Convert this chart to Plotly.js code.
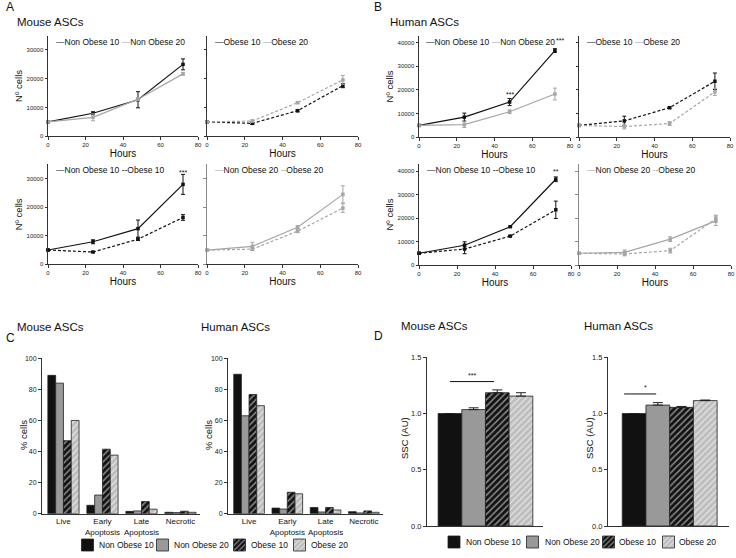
<!DOCTYPE html>
<html><head><meta charset="utf-8">
<script src="https://cdn.plot.ly/plotly-3.0.1.min.js"></script>
<style>html,body{margin:0;padding:0;background:#fff}#chart{width:736px;height:558px}</style>
</head><body><div id="chart"></div>
<script>
// ---------------- DATA ----------------
const hours = [0, 24, 48, 72];
const hourTicks = [0, 20, 40, 60, 80];
const mouseCountTicks = [0, 10000, 20000, 30000];
const humanCountTicks = [0, 10000, 20000, 30000, 40000];

// Panel A (mouse) – top row
const mNO10_top = [5000, 8000, 12700, 25000];   const mNO10_top_err = [0, 500, 2800, 1900];
const mNO20_top = [5000, 6600, 12900, 21700];   const mNO20_top_err = [0, 1200, 500, 500];
const mO10_top  = [5000, 4500, 8900, 17600];    const mO10_top_err  = [0, 400, 400, 700];
const mO20_top  = [5000, 5300, 11700, 19600];   const mO20_top_err  = [0, 400, 400, 1500];
// Panel A (mouse) – bottom row
const mNO10_bot = [5000, 7900, 12500, 28000];   const mNO10_bot_err = [0, 700, 3000, 3500];
const mO10_bot  = [5000, 4300, 8800, 16400];    const mO10_bot_err  = [0, 200, 400, 1000];
const mNO20_bot = [5000, 6300, 13000, 24500];   const mNO20_bot_err = [0, 1400, 500, 3000];
const mO20_bot  = [5000, 5300, 11600, 19700];   const mO20_bot_err  = [0, 500, 500, 1500];
// Panel B (human) – top row
const hNO10_top = [5000, 8500, 14900, 36700];   const hNO10_top_err = [0, 1700, 1500, 800];
const hNO20_top = [5000, 5300, 10800, 18300];   const hNO20_top_err = [0, 1200, 800, 2500];
const hO10_top  = [5000, 6900, 12500, 23700];   const hO10_top_err  = [0, 2000, 400, 3500];
const hO20_top  = [5000, 4500, 5800, 19200];    const hO20_top_err  = [0, 1000, 800, 1500];
// Panel B (human) – bottom row
const hNO10_bot = [5000, 8400, 16300, 36500];   const hNO10_bot_err = [0, 1500, 300, 1000];
const hO10_bot  = [5000, 6800, 12300, 23500];   const hO10_bot_err  = [0, 2000, 300, 3700];
const hNO20_bot = [5000, 5400, 11000, 18800];   const hNO20_bot_err = [0, 1000, 1000, 2000];
const hO20_bot  = [5000, 4700, 6100, 19700];    const hO20_bot_err  = [0, 800, 1000, 1500];

// Panel C – apoptosis (% cells)
const apopCats = ['Live', 'Early<br>Apoptosis', 'Late<br>Apoptosis', 'Necrotic'];
const pctTicks = [0, 20, 40, 60, 80, 100];
const mApopNO10 = [89.0, 5.4, 1.5, 0.9];
const mApopNO20 = [84.0, 12.0, 1.8, 0.7];
const mApopO10  = [47.0, 41.5, 7.8, 1.6];
const mApopO20  = [60.0, 37.7, 2.9, 0.9];
const hApopNO10 = [89.7, 3.6, 4.0, 1.3];
const hApopNO20 = [63.0, 3.0, 1.1, 0.5];
const hApopO10  = [76.7, 13.8, 4.0, 1.8];
const hApopO20  = [69.5, 12.8, 2.4, 0.9];

// Panel D – SSC (AU)
const groups = ['Non Obese 10', 'Non Obese 20', 'Obese 10', 'Obese 20'];
const sscTicks = [0, 0.5, 1.0, 1.5];
const sscTickText = ['0.0', '0.5', '1.0', '1.5'];
const mSSC     = [1.0, 1.035, 1.185, 1.155];
const mSSC_err = [0, 0.016, 0.025, 0.03];
const hSSC     = [1.0, 1.075, 1.055, 1.115];
const hSSC_err = [0, 0.022, 0.008, 0.005];

// ---------------- HELPERS ----------------
const W = 736, H = 558;
const FONT = 'Liberation Sans, Arial, Helvetica, sans-serif';
const P = x => x / W, Q = y => 1 - y / H;
const BLACK = '#111111', GREY = '#a6a6a6', AXC = '#333333', TXT = '#111111';

function lineTrace(n, y, err, color, dash) {
  const xa = n === 1 ? 'x' : 'x' + n, ya = n === 1 ? 'y' : 'y' + n;
  return {type: 'scatter', mode: 'lines+markers', x: hours, y: y,
    xaxis: xa, yaxis: ya, showlegend: false, cliponaxis: false,
    line: {color: color, width: 1.2, dash: dash},
    marker: {color: color, size: 3.5, symbol: 'square'},
    error_y: {type: 'data', array: err, visible: true, color: color, thickness: 1, width: 2}};
}
function xLine(x0, x1, yn) {
  return {domain: [P(x0), P(x1)], anchor: 'y' + yn, range: [0, 80], tickvals: hourTicks,
    ticktext: hourTicks.map(String), ticks: 'outside', ticklen: 2.5, tickwidth: 1, tickcolor: AXC,
    showline: true, linecolor: AXC, linewidth: 1, showgrid: false, zeroline: false,
    tickfont: {size: 6, color: '#222222'}, title: {text: 'Hours', font: {size: 10, color: TXT}, standoff: 0}};
}
function yLine(bottomPx, topPx, top, ticks, xn, labels, lc) {
  return {domain: [Q(bottomPx), Q(topPx)], anchor: 'x' + xn, range: [0, top], tickvals: ticks,
    ticktext: ticks.map(String), showticklabels: labels, ticks: 'outside', ticklen: 2.5, tickwidth: 1,
    tickcolor: lc || AXC, showline: true, linecolor: lc || AXC, linewidth: lc ? 1.5 : 1,
    showgrid: false, zeroline: false, tickfont: {size: 6, color: '#222222'},
    title: labels ? {text: 'Nº cells', font: {size: 9.5, color: TXT}, standoff: 2} : {text: ''}};
}

const barStyles = [
  {color: '#111111', pattern: {shape: ''}},
  {color: '#999999', pattern: {shape: ''}},
  {color: '#111111', pattern: {shape: '/', fgcolor: '#ffffff', size: 4.5, solidity: 0.35, fillmode: 'overlay'}},
  {color: '#bdbdbd', pattern: {shape: '/', fgcolor: '#ffffff', size: 4.5, solidity: 0.35, fillmode: 'overlay'}}
];
// one legend per entry (glyph only); the entry labels are placed right beside them as text
const legC = ['legend', 'legend2', 'legend3', 'legend4'];
const legD = ['legend5', 'legend6', 'legend7', 'legend8'];
function apopTrace(n, vals, k, legend) {
  return {type: 'bar', x: apopCats, y: vals, xaxis: 'x' + n, yaxis: 'y' + n,
    name: legend ? ' ' : groups[k], showlegend: legend, legend: legC[k],
    marker: {color: barStyles[k].color, pattern: barStyles[k].pattern, line: {color: '#222222', width: 0.8}}};
}
function sscTrace(n, vals, errs, k, legend) {
  return {type: 'bar', x: [groups[k]], y: [vals[k]], xaxis: 'x' + n, yaxis: 'y' + n,
    name: legend ? ' ' : groups[k], showlegend: legend, legend: legD[k], offsetgroup: 'ssc' + n, width: 1,
    marker: {color: barStyles[k].color, pattern: barStyles[k].pattern, line: {color: '#222222', width: 0.8}},
    error_y: {type: 'data', symmetric: false, array: [errs[k]], arrayminus: [0], visible: true,
      color: '#222222', thickness: 1, width: 5}};
}

// ---------------- TRACES ----------------
const data = [
  lineTrace(1, mNO10_top, mNO10_top_err, BLACK, 'solid'),
  lineTrace(1, mNO20_top, mNO20_top_err, GREY, 'solid'),
  lineTrace(2, mO10_top, mO10_top_err, BLACK, '3px,2px'),
  lineTrace(2, mO20_top, mO20_top_err, GREY, '3px,2px'),
  lineTrace(3, mNO10_bot, mNO10_bot_err, BLACK, 'solid'),
  lineTrace(3, mO10_bot, mO10_bot_err, BLACK, '3px,2px'),
  lineTrace(4, mNO20_bot, mNO20_bot_err, GREY, 'solid'),
  lineTrace(4, mO20_bot, mO20_bot_err, GREY, '3px,2px'),
  lineTrace(5, hNO10_top, hNO10_top_err, BLACK, 'solid'),
  lineTrace(5, hNO20_top, hNO20_top_err, GREY, 'solid'),
  lineTrace(6, hO10_top, hO10_top_err, BLACK, '3px,2px'),
  lineTrace(6, hO20_top, hO20_top_err, GREY, '3px,2px'),
  lineTrace(7, hNO10_bot, hNO10_bot_err, BLACK, 'solid'),
  lineTrace(7, hO10_bot, hO10_bot_err, BLACK, '3px,2px'),
  lineTrace(8, hNO20_bot, hNO20_bot_err, GREY, 'solid'),
  lineTrace(8, hO20_bot, hO20_bot_err, GREY, '3px,2px'),
  apopTrace(9, mApopNO10, 0, true), apopTrace(9, mApopNO20, 1, true),
  apopTrace(9, mApopO10, 2, true), apopTrace(9, mApopO20, 3, true),
  apopTrace(10, hApopNO10, 0, false), apopTrace(10, hApopNO20, 1, false),
  apopTrace(10, hApopO10, 2, false), apopTrace(10, hApopO20, 3, false)
];
for (let k = 0; k < 4; k++) data.push(sscTrace(11, mSSC, mSSC_err, k, true));
for (let k = 0; k < 4; k++) data.push(sscTrace(12, hSSC, hSSC_err, k, false));

// ---------------- LAYOUT ----------------
function xBarC(x0, x1, yn) {
  return {domain: [P(x0), P(x1)], anchor: 'y' + yn, type: 'category', categoryorder: 'array',
    categoryarray: apopCats, range: [-0.55, 3.5], ticks: '', tickangle: 0, showline: true, linecolor: AXC,
    linewidth: 1, showgrid: false, zeroline: false, tickfont: {size: 8, color: TXT}};
}
function yBarC(xn) {
  return {domain: [Q(513.7), Q(357.5)], anchor: 'x' + xn, range: [0, 100.5], tickvals: pctTicks,
    ticktext: pctTicks.map(String), ticks: 'outside', ticklen: 3, tickcolor: AXC, showline: true,
    linecolor: AXC, linewidth: 1, showgrid: false, zeroline: false, tickfont: {size: 7, color: '#222222'}};
}
function xBarD(x0, x1, yn, r) {
  return {domain: [P(x0), P(x1)], anchor: 'y' + yn, type: 'category', categoryorder: 'array',
    categoryarray: groups, range: r, ticks: '', showticklabels: false, showline: true, linecolor: AXC,
    linewidth: 1, showgrid: false, zeroline: false};
}
function yBarD(xn) {
  return {domain: [Q(526), Q(357.3)], anchor: 'x' + xn, range: [0, 1.5], tickvals: sscTicks,
    ticktext: sscTickText, ticks: 'outside', ticklen: 3, tickcolor: AXC, showline: true, linecolor: AXC,
    linewidth: 1, showgrid: false, zeroline: false, tickfont: {size: 7.5, color: '#222222'}};
}

function paperText(text, x, y, size, anchor, angle) {
  return {text: text, xref: 'paper', yref: 'paper', x: P(x), y: Q(y), xanchor: anchor || 'left',
    yanchor: 'middle', showarrow: false, textangle: angle || 0, font: {size: size, color: TXT}};
}
function legText(n, a, b, xpos) {
  const xr = n === 1 ? 'x domain' : 'x' + n + ' domain', yr = n === 1 ? 'y domain' : 'y' + n + ' domain';
  return {text: a + ' ' + b, xref: xr, yref: yr, x: xpos || 0.04, y: 0.94,
    xanchor: 'left', yanchor: 'middle', showarrow: false, font: {size: 8.5, color: TXT}};
}
const dashB = '<span style="color:#111111">—</span>', dashG = '<span style="color:#a6a6a6">—</span>';
const ddB = '<span style="color:#111111">--</span>', ddG = '<span style="color:#a6a6a6">--</span>';
function star(n, x, y, t) {
  return {text: t, xref: 'x' + n, yref: 'y' + n, x: x, y: y, xanchor: 'center', yanchor: 'middle',
    showarrow: false, font: {size: 7, color: TXT}};
}

// legend glyph centres and label starts (px) for the two bar legends
const legCglyph = [87.5, 162.5, 239.5, 299.5], legCtext = [97, 172, 249, 309];
const legDglyph = [454, 532.5, 608.5, 668.5], legDtext = [464, 543, 617, 677];

const annotations = [
  paperText('A', 4, 7, 12), paperText('B', 372, 7, 12),
  paperText('C', 4, 338, 12), paperText('D', 372, 336, 12),
  paperText('Mouse ASCs', 15, 22, 11.5), paperText('Human ASCs', 388, 22, 11.5),
  paperText('Mouse ASCs', 15, 327, 11.5), paperText('Human ASCs', 199, 327, 11.5),
  paperText('Mouse ASCs', 399, 326, 11.5), paperText('Human ASCs', 582, 326, 11.5),
  paperText('% cells', 23, 435, 9.5, 'center', -90), paperText('% cells', 208, 435, 9.5, 'center', -90),
  paperText('SSC (AU)', 404, 438, 9.5, 'center', -90), paperText('SSC (AU)', 589, 438, 9.5, 'center', -90),
  legText(1, dashB + 'Non Obese 10', dashG + 'Non Obese 20'),
  legText(2, dashB + 'Obese 10', dashG + 'Obese 20'),
  legText(3, dashB + 'Non Obese 10', ddB + 'Obese 10'),
  legText(4, dashG + 'Non Obese 20', ddG + 'Obese 20'),
  legText(5, dashB + 'Non Obese 10', dashG + 'Non Obese 20', 0.03),
  legText(6, dashB + 'Obese 10', dashG + 'Obese 20'),
  legText(7, dashB + 'Non Obese 10', ddB + 'Obese 10'),
  legText(8, dashG + 'Non Obese 20', ddG + 'Obese 20'),
  star(3, 72, 32300, '***'), star(5, 48, 18000, '***'), star(5, 74.5, 40800, '***'), star(7, 72, 39800, '**'),
  star(11, 0.95, 1.34, '***'), star(12, 0.47, 1.235, '*')
];
groups.forEach((g, i) => {
  annotations.push(paperText(g, legCtext[i], 545, 8.5));
  annotations.push(paperText(g, legDtext[i], 542, 8.5));
});

const shapes = [
  {type: 'line', xref: 'x11', yref: 'y11', x0: 0, x1: 1.86, y0: 1.284, y1: 1.284, line: {color: TXT, width: 1}},
  {type: 'line', xref: 'x12', yref: 'y12', x0: -0.42, x1: 0.93, y0: 1.174, y1: 1.174, line: {color: TXT, width: 1}}
];

function legendAt(glyphPx, ypx) {
  return {orientation: 'h', x: P(glyphPx - 20), y: Q(ypx), xanchor: 'left', yanchor: 'middle',
    font: {size: 8.5, color: TXT}, itemwidth: 30, bgcolor: 'rgba(0,0,0,0)', borderwidth: 0};
}

const layout = {
  width: W, height: H, margin: {l: 0, r: 0, t: 0, b: 0, pad: 0, autoexpand: false},
  paper_bgcolor: '#ffffff', plot_bgcolor: '#ffffff',
  font: {family: FONT, color: TXT}, barmode: 'group', bargap: 0.2, bargroupgap: 0,
  xaxis: xLine(48, 198, ''), yaxis: yLine(136.3, 35.6, 35000, mouseCountTicks, '', true),
  xaxis2: xLine(207, 358, 2), yaxis2: yLine(136.3, 35.6, 35000, mouseCountTicks, 2, false),
  xaxis3: xLine(48, 198, 3), yaxis3: yLine(264.3, 164.4, 35000, mouseCountTicks, 3, true),
  xaxis4: xLine(207, 358, 4), yaxis4: yLine(264.3, 164.4, 35000, mouseCountTicks, 4, false, '#8a8a8a'),
  xaxis5: xLine(419, 570, 5), yaxis5: yLine(137.2, 35.7, 43000, humanCountTicks, 5, true),
  xaxis6: xLine(579, 730, 6), yaxis6: yLine(137.2, 35.7, 43000, humanCountTicks, 6, false),
  xaxis7: xLine(419, 571, 7), yaxis7: yLine(265, 164, 43000, humanCountTicks, 7, true),
  xaxis8: xLine(579, 731, 8), yaxis8: yLine(265, 164, 43000, humanCountTicks, 8, false, '#8a8a8a'),
  xaxis9: xBarC(42, 200, 9), yaxis9: yBarC(9),
  xaxis10: xBarC(228, 383, 10), yaxis10: yBarC(10),
  xaxis11: xBarD(427, 543, 11, [-0.97, 3.93]), yaxis11: yBarD(11),
  xaxis12: xBarD(608, 729, 12, [-1.1, 4.0]), yaxis12: yBarD(12),
  annotations: annotations, shapes: shapes
};
legC.forEach((l, i) => { layout[l] = legendAt(legCglyph[i], 545); });
legD.forEach((l, i) => { layout[l] = legendAt(legDglyph[i], 542); });

Plotly.newPlot('chart', data, layout, {staticPlot: true, displayModeBar: false});
</script></body></html>
